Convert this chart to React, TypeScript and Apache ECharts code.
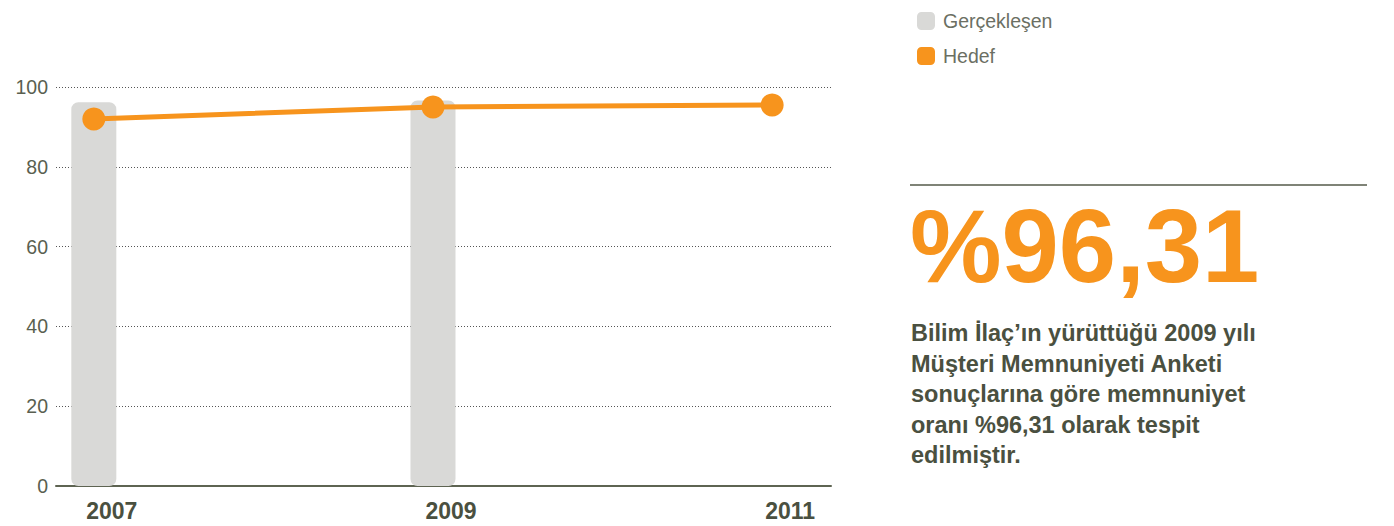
import React, { useEffect, useRef } from "react";
import * as echarts from "echarts";

const years = [2007, 2009, 2011];
const actual = [96.2, 96.6, null];
const target = [92.0, 95.0, 95.5];
const yTicks = [0, 20, 40, 60, 80, 100];
const legendNames = ["Gerçekleşen", "Hedef"];
const bigValue = "%96,31";
const paragraph = [
  "Bilim İlaç’ın yürüttüğü 2009 yılı",
  "Müşteri Memnuniyeti Anketi",
  "sonuçlarına göre memnuniyet",
  "oranı %96,31 olarak tespit",
  "edilmiştir.",
];

const ORANGE = "#F7941D";
const GREY_BAR = "#D9D9D7";
const DARK = "#4A5040";
const FONT = "'Liberation Sans', Arial, Helvetica, sans-serif";

export default function App() {
  const ref = useRef<HTMLDivElement>(null);
  useEffect(() => {
    document.body.style.margin = "0";
    if (!ref.current) return;
    const chart = echarts.init(ref.current, undefined, { renderer: "svg" });
    chart.setOption({
      animation: false,
      textStyle: { fontFamily: FONT },
      grid: { left: 56, right: 563, top: 87, bottom: 40, containLabel: false },
      legend: {
        orient: "vertical",
        left: 912,
        top: 6,
        itemWidth: 18,
        itemHeight: 18,
        itemGap: 15,
        icon: "roundRect",
        data: legendNames,
        textStyle: { fontSize: 19.5, color: "#6B6F63", fontFamily: FONT, padding: [0, 0, 0, 3] },
      },
      xAxis: {
        type: "value",
        min: 2006.777,
        max: 2011.347,
        splitLine: { show: false },
        axisTick: { show: false },
        axisLine: { show: true, onZero: true, lineStyle: { color: "#5E6452", width: 2 } },
        axisLabel: {
          customValues: years,
          formatter: (v: number) => String(v),
          fontSize: 23,
          fontWeight: "bold",
          color: DARK,
          margin: 13,
          padding: [0, 0, 0, 36],
          fontFamily: FONT,
        },
      },
      yAxis: {
        type: "value",
        min: 0,
        max: 100,
        interval: 20,
        axisLine: { show: false },
        axisTick: { show: false },
        axisLabel: {
          fontSize: 19.5,
          color: "#5A5F50",
          margin: 8,
          fontFamily: FONT,
          formatter: (v: number) => (yTicks.includes(v) ? String(v) : ""),
        },
        splitLine: { show: true, lineStyle: { type: [1, 2], color: "#555", width: 1 } },
      },
      series: [
        {
          name: legendNames[0],
          type: "bar",
          barWidth: 45,
          itemStyle: { color: GREY_BAR, borderRadius: 7 },
          data: years.map((y, i) => [y, actual[i]]),
          z: 2,
        },
        {
          name: legendNames[1],
          type: "line",
          symbol: "circle",
          symbolSize: 23,
          lineStyle: { color: ORANGE, width: 5 },
          itemStyle: { color: ORANGE },
          data: years.map((y, i) => [y, target[i]]),
          z: 3,
        },
      ],
      graphic: [
        {
          type: "line",
          shape: { x1: 910, y1: 185, x2: 1367, y2: 185 },
          style: { stroke: "#555A4A", lineWidth: 1.5 },
        },
        {
          type: "text",
          x: 910,
          y: 195,
          style: {
            text: bigValue,
            fontSize: 103,
            fontWeight: "bold",
            fontFamily: FONT,
            fill: ORANGE,
            lineHeight: 103,
            verticalAlign: "top",
          },
        },
        {
          type: "text",
          x: 911,
          y: 318,
          style: {
            text: paragraph.join("\n"),
            fontSize: 23.5,
            fontWeight: "bold",
            fontFamily: FONT,
            fill: DARK,
            lineHeight: 30.5,
            verticalAlign: "top",
          },
        },
      ],
    });
    return () => chart.dispose();
  }, []);
  return <div ref={ref} style={{ width: 1394, height: 526 }} />;
}
